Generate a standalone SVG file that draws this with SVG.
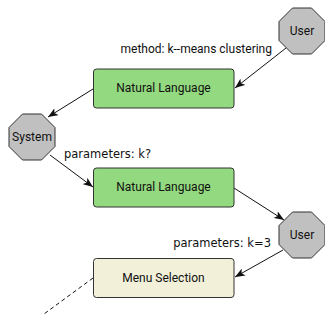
<svg xmlns="http://www.w3.org/2000/svg" width="325" height="321" viewBox="0 0 325 321">
<style>
.oct{fill:#c0c0c0;stroke:#333;stroke-width:1}
.nl{fill:#93d97f;stroke:#333;stroke-width:1}
.menu{fill:#f2f0d9;stroke:#333;stroke-width:1}
text{font-family:Roboto,"Liberation Sans",sans-serif;font-size:12px;fill:#111}
.c{text-anchor:middle}
.p{font-family:"DejaVu Sans",Verdana,sans-serif;font-size:11.5px}
.e{stroke:#111;stroke-width:1;fill:none}
</style>
<defs>
<marker id="ah" viewBox="0 0 10 8" refX="10" refY="4" markerWidth="10" markerHeight="8" markerUnits="userSpaceOnUse" orient="auto">
<path d="M0,0 L10,4 L0,8 L2.5,4 z" fill="#111"/>
</marker>
</defs>
<rect width="325" height="321" fill="#fff"/>
<g id="connectors">
<line class="e" x1="286" y1="48" x2="235" y2="88" marker-end="url(#ah)"/>
<line class="e" x1="93" y1="89" x2="48" y2="117" marker-end="url(#ah)"/>
<line class="e" x1="50" y1="155" x2="93" y2="187" marker-end="url(#ah)"/>
<line class="e" x1="234" y1="188" x2="284" y2="220" marker-end="url(#ah)"/>
<line class="e" x1="283" y1="250" x2="235" y2="277" marker-end="url(#ah)"/>
<line class="e" x1="93" y1="278" x2="44" y2="314" stroke-dasharray="4,3"/>
<text x="272" y="53" text-anchor="end">method: k--means clustering</text>
<text class="p" x="64" y="158">parameters: k?</text>
<text class="p" x="271" y="247" text-anchor="end">parameters: k=3</text>
</g>
<g id="user1">
<polygon class="oct" points="292.5,8 311.5,8 325,21.5 325,40.5 311.5,54 292.5,54 279,40.5 279,21.5"/>
<text class="c" x="302" y="35">User</text>
</g>
<g id="nl1">
<rect class="nl" x="93.5" y="69" width="140.5" height="39" rx="3"/>
<text class="c" x="163.5" y="92">Natural Language</text>
</g>
<g id="system">
<polygon class="oct" points="22.5,114 41.5,114 55,127.5 55,146.5 41.5,160 22.5,160 9,146.5 9,127.5"/>
<text class="c" x="32" y="141">System</text>
</g>
<g id="nl2">
<rect class="nl" x="93.5" y="168" width="140.5" height="39" rx="3"/>
<text class="c" x="163.5" y="191">Natural Language</text>
</g>
<g id="user2">
<polygon class="oct" points="292.5,212 311.5,212 325,225.5 325,244.5 311.5,258 292.5,258 279,244.5 279,225.5"/>
<text class="c" x="302" y="239">User</text>
</g>
<g id="menu">
<rect class="menu" x="93.5" y="258.5" width="140.5" height="39" rx="3"/>
<text class="c" x="163.5" y="282">Menu Selection</text>
</g>
</svg>
